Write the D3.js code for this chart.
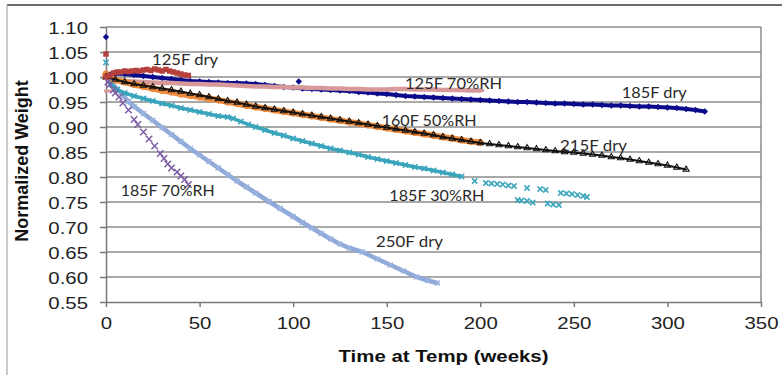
<!DOCTYPE html>
<html><head><meta charset="utf-8">
<script src="https://cdn.jsdelivr.net/npm/d3@7"></script>
<style>html,body{margin:0;padding:0;background:#fff;}svg{display:block;}</style>
</head><body>
<svg id="c" width="782" height="375"></svg>
<script>
// ---------------- data ----------------
const xTicks = [0, 50, 100, 150, 200, 250, 300, 350];
const yTicks = [0.55, 0.60, 0.65, 0.70, 0.75, 0.80, 0.85, 0.90, 0.95, 1.00, 1.05, 1.10];

// 185F dry
const dry185Weeks = [0,5,10,15,20,25,30,35,40,45,50,55,60,65,70,75,80,85,90,95,100,105,110,115,120,125,130,135,140,145,150,155,160,165,170,175,180,185,190,195,200,205,210,215,220,225,230,235,240,245,250,255,260,265,270,275,280,285,290,295,300,305,310,315,320];
const dry185Values = [1.006,1.007,1.006,1.004,1.002,1.000,0.998,0.996,0.994,0.992,0.991,0.990,0.989,0.988,0.988,0.987,0.986,0.984,0.982,0.980,0.979,0.977,0.976,0.975,0.974,0.973,0.972,0.970,0.969,0.967,0.966,0.964,0.962,0.961,0.960,0.959,0.958,0.957,0.956,0.955,0.954,0.953,0.952,0.951,0.950,0.950,0.949,0.948,0.947,0.947,0.946,0.945,0.945,0.944,0.943,0.943,0.942,0.941,0.941,0.940,0.939,0.938,0.936,0.934,0.931];
const dry185ExtraWeeks = [0, 103];
const dry185ExtraValues = [1.080, 0.991];

// 125F 70%RH
const rh70_125Weeks = [0,5,10,15,20,25,30,35,40,45,50,55,60,65,70,75,80,85,90,95,100,105,110,115,120,125,130,135,140,145,150,155,160,165,170,175,180,185,190,195,200];
const rh70_125Values = [0.998,0.994,0.992,0.991,0.990,0.989,0.988,0.988,0.987,0.986,0.986,0.985,0.985,0.984,0.983,0.982,0.981,0.981,0.980,0.980,0.979,0.979,0.978,0.978,0.977,0.977,0.976,0.976,0.975,0.975,0.975,0.976,0.976,0.975,0.975,0.975,0.974,0.974,0.974,0.973,0.973];
const rh70_125ExtraWeeks = [1];
const rh70_125ExtraValues = [0.972];

// 125F dry
const dry125Weeks = [0,2,4,6,8,10,12,14,16,18,20,22,24,26,28,30,32,34,36,38,40,42,44];
const dry125Values = [1.000,1.003,1.008,1.010,1.010,1.012,1.011,1.012,1.013,1.012,1.014,1.015,1.013,1.016,1.014,1.012,1.015,1.012,1.010,1.008,1.006,1.004,1.003];
const dry125ExtraWeeks = [0];
const dry125ExtraValues = [1.046];

// 215F dry
const dry215Weeks = [0,5,10,15,20,25,30,35,40,45,50,55,60,65,70,75,80,85,90,95,100,105,110,115,120,125,130,135,140,145,150,155,160,165,170,175,180,185,190,195,200,205,210,215,220,225,230,235,240,245,250,255,260,265,270,275,280,285,290,295,300,305,310];
const dry215Values = [1.000,0.995,0.990,0.986,0.983,0.980,0.977,0.974,0.971,0.967,0.964,0.960,0.956,0.952,0.949,0.945,0.941,0.938,0.935,0.932,0.929,0.926,0.923,0.920,0.917,0.914,0.911,0.908,0.905,0.902,0.899,0.896,0.893,0.890,0.887,0.884,0.880,0.877,0.874,0.871,0.868,0.866,0.864,0.862,0.860,0.858,0.856,0.854,0.852,0.850,0.849,0.847,0.845,0.843,0.840,0.838,0.835,0.832,0.829,0.826,0.823,0.819,0.815];

// 160F 50%RH
const rh50_160Weeks = [0,5,10,15,20,25,30,35,40,45,50,55,60,65,70,75,80,85,90,95,100,105,110,115,120,125,130,135,140,145,150,155,160,165,170,175,180,185,190,195,200];
const rh50_160Values = [1.003,0.994,0.990,0.985,0.981,0.977,0.973,0.970,0.966,0.963,0.960,0.957,0.954,0.950,0.947,0.943,0.940,0.937,0.934,0.931,0.928,0.925,0.922,0.919,0.916,0.913,0.910,0.907,0.904,0.901,0.898,0.895,0.892,0.889,0.886,0.883,0.880,0.877,0.874,0.871,0.869];
const rh50_160ExtraWeeks = [0];
const rh50_160ExtraValues = [1.006];

// 185F 30%RH
const rh30_185Weeks = [0,3,6,10,15,20,25,30,35,40,45,50,55,60,65,68,72,76,80,85,90,95,100,105,110,115,120,125,130,135,140,145,150,155,160,165,170,175,180,185,190];
const rh30_185Values = [1.000,0.985,0.975,0.968,0.962,0.957,0.952,0.947,0.943,0.938,0.934,0.930,0.926,0.922,0.920,0.917,0.911,0.905,0.900,0.894,0.888,0.883,0.877,0.872,0.867,0.862,0.857,0.853,0.849,0.845,0.840,0.836,0.832,0.828,0.824,0.820,0.817,0.813,0.809,0.805,0.801];
const rh30_185ExtraWeeks = [0,197,203,206,209,212,215,218,225,232,235,243,246,249,252,255,257,220,222,225,228,236,239,242];
const rh30_185ExtraValues = [1.029,0.792,0.788,0.787,0.786,0.785,0.783,0.782,0.778,0.776,0.774,0.768,0.767,0.766,0.764,0.762,0.760,0.754,0.753,0.752,0.749,0.747,0.745,0.744];

// 250F dry
const dry250Weeks = [0,3,6,9,12,15,20,25,30,35,40,45,50,55,60,65,70,75,80,87,93,100,105,110,115,120,125,130,137,145,152,159,166,172,177];
const dry250Values = [1.000,0.988,0.975,0.963,0.951,0.941,0.927,0.913,0.899,0.885,0.871,0.857,0.844,0.831,0.818,0.805,0.792,0.780,0.768,0.751,0.737,0.721,0.709,0.698,0.687,0.676,0.666,0.658,0.650,0.636,0.624,0.612,0.600,0.593,0.588];

// 185F 70%RH
const rh70_185Weeks = [1,2,4,5,7,9,12,15,17,20,23,26,29,31,33,35,38,40,42,44];
const rh70_185Values = [0.990,0.985,0.974,0.968,0.960,0.948,0.934,0.915,0.905,0.890,0.876,0.862,0.847,0.837,0.826,0.818,0.810,0.802,0.795,0.785];

// annotation labels (anchored in data coordinates: week, weight)
const labelTexts = ["125F dry", "125F 70%RH", "185F dry", "160F 50%RH", "215F dry", "185F 30%RH", "185F 70%RH", "250F dry"];
const labelWeeks = [24.6, 159.8, 275.6, 147.3, 242.6, 151.4, 7.9, 144.3];
const labelWeights = [1.024, 0.976, 0.958, 0.902, 0.852, 0.752, 0.762, 0.661];

// ---------------- chart ----------------
const labelWidths = [66, 97, 65, 95, 67, 95, 94, 67];
const M = {l: 106, r: 761, t: 27, b: 302};
const SX = 1.2;
const x = d3.scaleLinear().domain([0, 350]).range([M.l, M.r]);
const y = d3.scaleLinear().domain([0.55, 1.10]).range([M.b, M.t]);
const svg = d3.select("#c");
const zip = (w, v) => w.slice(0, Math.min(w.length, v.length)).map((d, i) => ({w: d, v: v[i]}));

// outer frame
svg.append("line").attr("x1", 7).attr("y1", 5).attr("x2", 782).attr("y2", 5).attr("stroke", "#3a3a3a").attr("stroke-width", 1.5);
svg.append("line").attr("x1", 7).attr("y1", 5).attr("x2", 7).attr("y2", 375).attr("stroke", "#a8a8a8").attr("stroke-width", 1.2);

// grid
const gridColor = "#8c8c8c";
svg.append("g").selectAll("line").data(yTicks.slice(1)).join("line")
  .attr("x1", M.l).attr("x2", M.r).attr("y1", d => y(d)).attr("y2", d => y(d))
  .attr("stroke", gridColor).attr("stroke-width", 1.5);
svg.append("line").attr("x1", M.r).attr("x2", M.r).attr("y1", M.t).attr("y2", M.b).attr("stroke", gridColor).attr("stroke-width", 1.5);

// axes
const gx = svg.append("g").attr("transform", `translate(0,${M.b})`)
  .call(d3.axisBottom(x).tickValues(xTicks).tickSize(5).tickSizeOuter(0).tickFormat(d3.format("d")));
const gy = svg.append("g").attr("transform", `translate(${M.l},0)`)
  .call(d3.axisLeft(y).tickValues(yTicks).tickSize(6).tickSizeOuter(0).tickFormat(d3.format(".2f")));
[gx, gy].forEach(g => {
  g.select(".domain").attr("stroke", "#7a7a7a").attr("stroke-width", 1.5);
  g.selectAll(".tick line").attr("stroke", "#7a7a7a").attr("stroke-width", 1.5);
  g.selectAll(".tick text").attr("font-family", "'Liberation Sans', Arial, sans-serif").attr("font-size", 17).attr("fill", "#222");
});
gx.selectAll(".tick text").attr("y", 27).attr("dy", 0).attr("transform", `scale(${SX},1)`);
gy.selectAll(".tick text").attr("x", -15).attr("dy", "0.36em").attr("transform", `scale(${SX},1)`);

// axis titles
svg.append("text").attr("transform", "translate(28,161) rotate(-90)").attr("text-anchor", "middle")
  .attr("font-family", "'Liberation Sans', Arial, sans-serif").attr("font-weight", "bold").attr("font-size", 18).attr("fill", "#111")
  .text("Normalized Weight");
svg.append("text").attr("transform", `translate(443.5,362) scale(${SX},1)`).attr("text-anchor", "middle")
  .attr("font-family", "'Liberation Sans', Arial, sans-serif").attr("font-weight", "bold").attr("font-size", 17).attr("fill", "#111")
  .text("Time at Temp (weeks)");

// marker shapes
const xMark = s => `M${-s},${-s}L${s},${s}M${-s},${s}L${s},${-s}`;
const shapes = {
  diamond: () => d3.symbol(d3.symbolSquare, 20)(),
  square: () => d3.symbol(d3.symbolSquare, 30)(),
  triangle: () => d3.symbol(d3.symbolTriangle, 16)(),
  circle: () => d3.symbol(d3.symbolCircle, 26)(),
  dash: () => "M-4,0H4",
  x: () => xMark(2.6),
  xbig: () => xMark(3.2)
};

const seriesDefs = [
  {pts: zip(dry250Weeks, dry250Values), extra: [], color: "#8fa9d8", band: 4.5, shape: "x", fill: "none", sw: 1.4, markerColor: "#9db4de"},
  {pts: zip(rh30_185Weeks, rh30_185Values), extra: zip(rh30_185ExtraWeeks, rh30_185ExtraValues), color: "#3aa5bc", band: 3.5, shape: "x", fill: "none", sw: 1.5},
  {pts: zip(dry185Weeks, dry185Values), extra: zip(dry185ExtraWeeks, dry185ExtraValues), color: "#0a0a8a", band: 4, shape: "diamond", fill: "#0a0a8a", sw: 0, rot: 45},
  {pts: zip(rh70_125Weeks, rh70_125Values), extra: zip(rh70_125ExtraWeeks, rh70_125ExtraValues), color: "#d8999a", band: 4.5, shape: "dash", fill: "none", sw: 3},
  {pts: zip(rh50_160Weeks, rh50_160Values), extra: zip(rh50_160ExtraWeeks, rh50_160ExtraValues), color: "#f08c3e", band: 6, shape: "circle", fill: "none", sw: 1.5},
  {pts: zip(dry215Weeks, dry215Values), extra: [], color: "#111", band: 2, shape: "triangle", fill: "none", sw: 1.1},
  {pts: zip(dry125Weeks, dry125Values), extra: zip(dry125ExtraWeeks, dry125ExtraValues), color: "#b5403c", band: 0, shape: "square", fill: "#b5403c", sw: 0},
  {pts: zip(rh70_185Weeks, rh70_185Values), extra: [], color: "#7b5ca5", band: 0, shape: "xbig", fill: "none", sw: 1.5}
];

const line = d3.line().x(d => x(d.w)).y(d => y(d.v));
seriesDefs.forEach(s => {
  const g = svg.append("g");
  if (s.band > 0) {
    g.append("path").datum(s.pts).attr("d", line).attr("fill", "none")
      .attr("stroke", s.color).attr("stroke-width", s.band).attr("stroke-linejoin", "round").attr("stroke-linecap", "round");
  }
  const all = s.pts.concat(s.extra);
  const mc = s.markerColor || s.color;
  g.selectAll("path.m").data(all).join("path").attr("class", "m")
    .attr("d", shapes[s.shape]())
    .attr("transform", d => `translate(${x(d.w)},${y(d.v)})` + (s.rot ? ` rotate(${s.rot})` : ""))
    .attr("fill", s.fill)
    .attr("stroke", s.sw > 0 ? mc : "none")
    .attr("stroke-width", s.sw);
});

// annotation labels
svg.append("g").selectAll("text").data(labelTexts).join("text")
  .attr("x", (d, i) => x(labelWeeks[i])).attr("y", (d, i) => y(labelWeights[i]))
  .attr("font-family", "Lato, 'Open Sans', sans-serif").attr("font-size", 15).attr("fill", "#2a2a2a")
  .attr("textLength", (d, i) => labelWidths[i]).attr("lengthAdjust", "spacingAndGlyphs")
  .text(d => d);
</script>
</body></html>
